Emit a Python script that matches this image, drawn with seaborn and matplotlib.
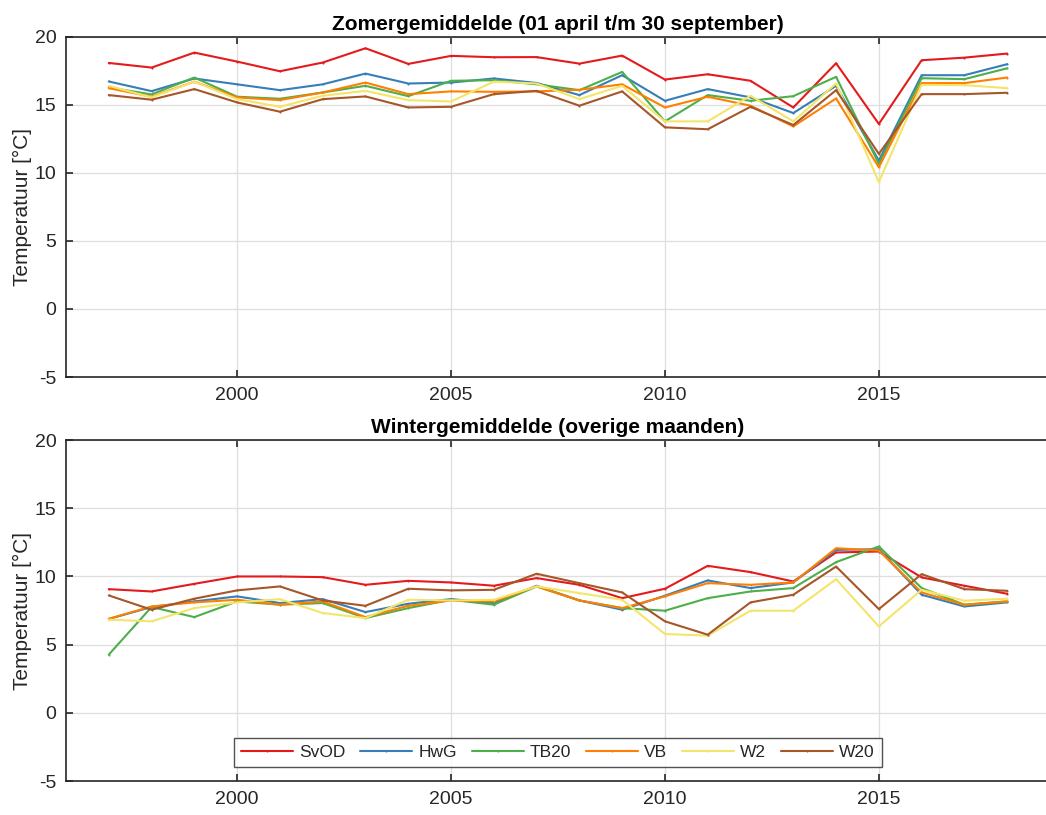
import pandas as pd
import matplotlib
matplotlib.use("Agg")
import matplotlib.pyplot as plt
import seaborn as sns

# jaren en meetlocaties
jaren = list(range(1997, 2019))
locaties = ["SvOD", "HwG", "TB20", "VB", "W2", "W20"]
kleuren = ["#e41a1c", "#377eb8", "#4daf4a", "#ff7f00", "#f3e56a", "#a65628"]

# zomergemiddelde (01 april t/m 30 september)
zomer_svod = [18.07, 17.73, 18.83, 18.17, 17.46, 18.10, 19.15, 18.00, 18.59, 18.49, 18.50,
              18.02, 18.61, 16.85, 17.24, 16.76, 14.80, 18.05, 13.59, 18.27, 18.46, 18.76]
zomer_hwg = [16.71, 16.00, 16.93, 16.50, 16.07, 16.50, 17.29, 16.56, 16.63, 16.93, 16.60,
             15.71, 17.17, 15.29, 16.15, 15.54, 14.39, 16.39, 10.90, 17.17, 17.17, 17.98]
zomer_tb20 = [16.27, 15.76, 17.00, 15.59, 15.44, 15.90, 16.39, 15.63, 16.76, 16.80, 16.50,
              16.07, 17.41, 13.78, 15.71, 15.29, 15.63, 17.05, 10.66, 16.95, 16.88, 17.68]
zomer_vb = [16.22, 15.59, 16.70, 15.54, 15.34, 15.90, 16.63, 15.78, 15.98, 15.95, 15.98,
            16.10, 16.50, 14.80, 15.59, 14.93, 13.41, 15.46, 10.41, 16.59, 16.59, 17.00]
zomer_w2 = [16.39, 15.54, 16.70, 15.41, 14.85, 15.66, 16.02, 15.34, 15.24, 16.70, 16.56,
            15.41, 16.39, 13.78, 13.78, 15.66, 13.78, 16.56, 9.32, 16.46, 16.44, 16.22]
zomer_w20 = [15.71, 15.37, 16.15, 15.17, 14.49, 15.41, 15.61, 14.80, 14.85, 15.78, 16.02,
             14.93, 15.98, 13.34, 13.20, 14.85, 13.51, 16.07, 11.39, 15.78, 15.78, 15.88]

# wintergemiddelde (overige maanden)
winter_svod = [9.07, 8.90, 9.46, 10.00, 10.00, 9.95, 9.39, 9.68, 9.56, 9.32, 9.88,
               9.39, 8.41, 9.10, 10.78, 10.32, 9.63, 11.76, 11.83, 9.93, 9.32, 8.73]
winter_hwg = [6.88, 7.76, 8.17, 8.54, 8.05, 8.34, 7.39, 8.00, 8.34, 8.05, 9.32,
              8.24, 7.56, 8.59, 9.71, 9.15, 9.56, 11.95, 12.00, 8.66, 7.80, 8.10]
winter_tb20 = [4.27, 7.76, 7.02, 8.17, 7.93, 8.05, 6.95, 7.68, 8.29, 7.93, 9.27,
               8.24, 7.68, 7.49, 8.41, 8.90, 9.15, 11.05, 12.20, 9.15, 7.93, 8.17]
winter_vb = [6.90, 7.80, 8.10, 8.29, 7.93, 8.17, 7.02, 7.85, 8.24, 8.17, 9.27,
             8.24, 7.68, 8.54, 9.51, 9.39, 9.56, 12.07, 11.90, 8.83, 7.93, 8.17]
winter_w2 = [6.83, 6.71, 7.68, 8.10, 8.34, 7.32, 6.95, 8.29, 8.24, 8.29, 9.27,
             8.78, 8.29, 5.78, 5.66, 7.49, 7.49, 9.80, 6.34, 9.02, 8.22, 8.37]
winter_w20 = [8.61, 7.56, 8.37, 8.98, 9.27, 8.24, 7.85, 9.10, 8.98, 9.02, 10.20,
              9.51, 8.83, 6.71, 5.73, 8.10, 8.66, 10.73, 7.61, 10.17, 9.07, 8.95]

zomer = [zomer_svod, zomer_hwg, zomer_tb20, zomer_vb, zomer_w2, zomer_w20]
winter = [winter_svod, winter_hwg, winter_tb20, winter_vb, winter_w2, winter_w20]


def lang_formaat(reeksen):
    """zet de reeksen om naar een lange tabel voor seaborn"""
    rijen = []
    for loc, waarden in zip(locaties, reeksen):
        for jaar, t in zip(jaren, waarden):
            rijen.append({"Jaar": jaar, "Temperatuur": t, "Locatie": loc})
    return pd.DataFrame(rijen)


sns.set_style("ticks")
plt.rcParams["font.family"] = ["Liberation Sans", "DejaVu Sans"]
plt.rcParams["axes.unicode_minus"] = False
tekst = "#262626"

fig = plt.figure(figsize=(10.46, 8.15), dpi=100)
ax1 = fig.add_axes([0.0631, 0.5374, 0.9407, 0.4176])
ax2 = fig.add_axes([0.0631, 0.0417, 0.9407, 0.4183])

panelen = [
    (ax1, zomer, "Zomergemiddelde (01 april t/m 30 september)"),
    (ax2, winter, "Wintergemiddelde (overige maanden)"),
]

for ax, reeksen, titel in panelen:
    df = lang_formaat(reeksen)
    sns.lineplot(data=df, x="Jaar", y="Temperatuur", hue="Locatie",
                 hue_order=locaties, palette=kleuren, ax=ax,
                 linewidth=1.5, marker=".", markersize=3, markeredgewidth=0,
                 legend=(ax is ax2))
    ax.set_xlim(1996, 2019)
    ax.set_ylim(-5, 20)
    ax.set_xticks([2000, 2005, 2010, 2015])
    ax.set_yticks([-5, 0, 5, 10, 15, 20])
    ax.grid(True, color="#dedede", linewidth=0.9)
    ax.set_axisbelow(True)
    ax.tick_params(direction="in", top=True, length=5, width=1.2,
                   labelsize=14, colors=tekst, pad=7)
    for s in ax.spines.values():
        s.set_color(tekst)
        s.set_linewidth(1.2)
    ax.set_title(titel, fontsize=15, fontweight="bold", color="black", pad=5)
    ax.set_xlabel("")
    ax.set_ylabel("Temperatuur [°C]", fontsize=15, color=tekst, labelpad=2)

leg = ax2.legend(loc="lower center", bbox_to_anchor=(0.5, 0.04), ncol=6,
                 fontsize=12.5, handlelength=3.0, handletextpad=0.35,
                 columnspacing=0.85, frameon=True, fancybox=False,
                 borderpad=0.4, borderaxespad=0)
leg.get_frame().set_edgecolor(tekst)
leg.get_frame().set_linewidth(1.0)
for t in leg.get_texts():
    t.set_color(tekst)

fig.savefig("out.png", dpi=100)
